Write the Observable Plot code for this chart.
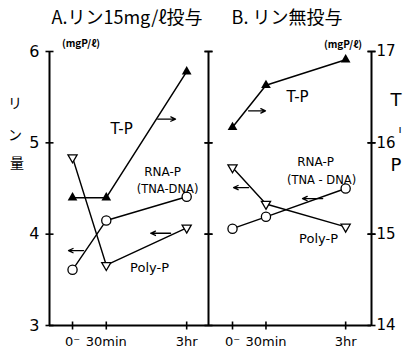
<!DOCTYPE html>
<html><head><meta charset="utf-8">
<script src="https://cdn.jsdelivr.net/npm/d3@7"></script>
<script src="https://cdn.jsdelivr.net/npm/@observablehq/plot@0.6"></script>
<style>
body{margin:0;background:#fff;}
#wrap{position:relative;width:409px;height:354px;overflow:hidden;font-family:"Noto Sans CJK JP","DejaVu Sans",sans-serif;color:#000;background:#fff;}
#wrap svg{position:absolute;left:0;top:0;}
.lab{position:absolute;white-space:nowrap;line-height:1;transform:translate(-50%,-50%);}
</style></head><body><div id="wrap"></div>
<script>
// ---- data ----
const times = [0, 0.5, 3];                 // hours
const xTickLabels = ["0⁻", "30min", "3hr"];
const leftTicks = [3, 4, 5, 6];
const rightTicks = [14, 15, 16, 17];
// Panel A: リン15mg/ℓ投与
const tpA   = [4.40, 4.40, 5.78];
const polyA = [4.84, 3.66, 4.07];
const rnaA  = [3.61, 4.15, 4.41];
// Panel B: リン無投与
const tpB   = [16.17, 16.63, 16.91];   // right scale (14–17)
const polyB = [4.73, 4.33, 4.08];
const rnaB  = [4.06, 4.19, 4.50];

// annotation anchors (data units)
const arrowsA  = [{x1: 1.95, x2: 2.58, y: 5.26}, {x1: 0.096, x2: -0.022, y: 3.82}, {x1: 2.40, x2: 1.72, y: 4.01}];
const arrowsB  = [{x1: 0.17, x2: 0.003, y: 4.51}, {x1: 2.15, x2: 1.48, y: 4.39}];
const arrowsBR = [{x1: 0.17, x2: 0.49, y: 16.35}];
const labelsA  = [{t: "T-P", x: 0.866, y: 5.147}, {t: "RNA-P", x: 2.116, y: 4.676}, {t: "(TNA-DNA)", x: 2.292, y: 4.49}, {t: "Poly-P", x: 1.683, y: 3.635}];
const labelsB  = [{t: "RNA-P", x: 1.904, y: 4.785}, {t: "(TNA - DNA)", x: 2.109, y: 4.588}, {t: "Poly-P", x: 2.005, y: 3.953}];
const labelsBR = [{t: "T-P", x: 1.329, y: 16.50}];

const xDomA = [-0.285, 3.88];
const xDomB = [-0.307, 4.06];

const rows = arr => times.map((t, i) => ({t, v: arr[i]}));
const fs = d => ({"T-P": 15, "RNA-P": 12, "Poly-P": 13})[d.t] ?? 11.5;

const hTick = {draw(ctx, size) { const r = Math.sqrt(size / Math.PI); ctx.moveTo(-r, 0); ctx.lineTo(r, 0); }};
const vTick = {draw(ctx, size) { const r = Math.sqrt(size / Math.PI); ctx.moveTo(0, -r); ctx.lineTo(0, r); }};
const downTri = {draw(ctx, size) {
  const s3 = Math.sqrt(3), y = -Math.sqrt(size / (s3 * 3));
  ctx.moveTo(0, -y * 2); ctx.lineTo(-s3 * y, y); ctx.lineTo(s3 * y, y); ctx.closePath();
}};

const font = "'DejaVu Sans', sans-serif";
const base = (xDom, ml, mr, yDom, marks) => Plot.plot({
  width: 409, height: 354, marginLeft: ml, marginRight: mr, marginTop: 51, marginBottom: 29,
  style: {background: "transparent", fontFamily: font, overflow: "visible"},
  x: {type: "pow", exponent: 0.68, domain: xDom, axis: null},
  y: {domain: yDom, axis: null},
  marks
});

const seriesMarks = (tp, poly, rna, withTp) => [
  ...(withTp ? [Plot.line(rows(tp), {x: "t", y: "v", stroke: "black", strokeWidth: 1.5}),
                Plot.dot(rows(tp), {x: "t", y: "v", symbol: "triangle", r: 3.6, fill: "black"})] : []),
  Plot.line(rows(poly), {x: "t", y: "v", stroke: "black", strokeWidth: 1.4}),
  Plot.line(rows(rna), {x: "t", y: "v", stroke: "black", strokeWidth: 1.4}),
  Plot.dot(rows(poly), {x: "t", y: "v", symbol: downTri, r: 3.4, fill: "white", stroke: "black", strokeWidth: 1.3}),
  Plot.dot(rows(rna), {x: "t", y: "v", r: 4.6, fill: "white", stroke: "black", strokeWidth: 1.3})
];

const frameMarks = (xDom, left) => [
  Plot.ruleX(left ? xDom : [xDom[1]], {stroke: "black", strokeWidth: 2}),
  Plot.ruleY([3], {stroke: "black", strokeWidth: 2}),
  Plot.dot(leftTicks, {x: () => xDom[0], y: d => d, symbol: hTick, r: 4, stroke: "black", strokeWidth: 1.6}),
  Plot.dot(leftTicks.slice(1), {x: () => xDom[1], y: d => d, symbol: hTick, r: 4, stroke: "black", strokeWidth: 1.6}),
  Plot.dot(times, {x: d => d, y: () => 3, symbol: vTick, r: 4, stroke: "black", strokeWidth: 1.6}),
  Plot.text(times, {x: d => d, y: () => 3, text: (d, i) => xTickLabels[i], dy: 16, fontSize: 13})
];

const arrowMarks = arr => Plot.arrow(arr, {x1: "x1", x2: "x2", y1: "y", y2: "y", stroke: "black", strokeWidth: 1.3, headLength: 6, headAngle: 50});
const textMarks = arr => Plot.text(arr, {x: "x", y: "y", text: "t", fontSize: fs, fontWeight: 500});

const wrap = document.getElementById("wrap");

// Panel A
wrap.append(base(xDomA, 49, 201, [3, 6], [
  ...frameMarks(xDomA, true),
  Plot.text(leftTicks, {x: () => xDomA[0], y: d => d, text: d => String(d), dx: -10, textAnchor: "end", fontSize: 16}),
  ...seriesMarks(tpA, polyA, rnaA, true),
  arrowMarks(arrowsA),
  textMarks(labelsA)
]));

// Panel B (RNA-P, Poly-P on left scale; shares the divider line with panel A)
wrap.append(base(xDomB, 208, 38, [3, 6], [
  ...frameMarks(xDomB, false),
  ...seriesMarks(null, polyB, rnaB, false),
  arrowMarks(arrowsB),
  textMarks(labelsB)
]));

// Panel B T-P on right scale (14–17)
wrap.append(base(xDomB, 208, 38, [14, 17], [
  Plot.dot(rightTicks, {x: () => xDomB[1], y: d => d, symbol: hTick, r: 4, stroke: "black", strokeWidth: 1.6}),
  Plot.text(rightTicks, {x: () => xDomB[1], y: d => d, text: d => String(d), dx: 5, textAnchor: "start", fontSize: 15}),
  Plot.line(rows(tpB), {x: "t", y: "v", stroke: "black", strokeWidth: 1.5}),
  Plot.dot(rows(tpB), {x: "t", y: "v", symbol: "triangle", r: 3.6, fill: "black"}),
  arrowMarks(arrowsBR),
  textMarks(labelsBR)
]));

// text labels outside plotting areas
const lab = (txt, cx, cy, size, extra = "") => {
  const d = document.createElement("div");
  d.className = "lab"; d.textContent = txt;
  d.style.cssText = `left:${cx}px;top:${cy}px;font-size:${size}px;${extra}`;
  wrap.append(d);
};
lab("A.リン15mg/ℓ投与", 127, 16, 18);
lab("B. リン無投与", 287, 16, 18);
lab("(mgP/ℓ)", 81, 43, 10, "font-weight:bold;");
lab("(mgP/ℓ)", 343, 44, 10, "font-weight:bold;");
lab("リ", 15, 102, 14);
lab("ン", 15, 134, 14);
lab("量", 17, 162, 14);
lab("T", 396, 100, 18, "font-family:'DejaVu Sans';");
lab("ı", 400, 129, 11, "font-family:'DejaVu Sans';");
lab("P", 396, 165, 18, "font-family:'DejaVu Sans';");
</script></body></html>
